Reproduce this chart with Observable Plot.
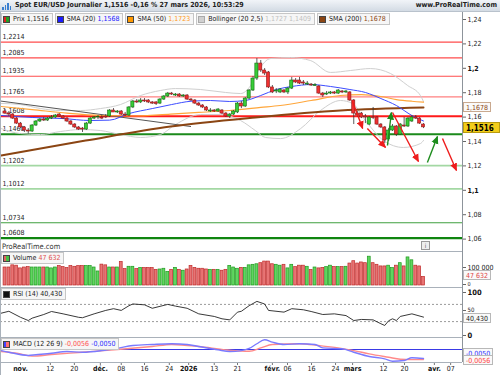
<!DOCTYPE html>
<html><head><meta charset="utf-8">
<script src="https://cdn.jsdelivr.net/npm/d3@7"></script>
<script src="https://cdn.jsdelivr.net/npm/@observablehq/plot@0.6"></script>
<style>
html,body{margin:0;padding:0;background:#fff;}
#root{position:relative;width:500px;height:375px;overflow:hidden;font-family:"DejaVu Sans Condensed","DejaVu Sans",sans-serif;color:#222;}
#title{position:absolute;left:0;top:0;width:500px;height:12px;background:linear-gradient(#f1f4f8,#d3dbe4);border-bottom:1px solid #b9c2cc;box-sizing:border-box;font-weight:bold;font-size:7px;line-height:11px;}
#title .ttl{position:absolute;left:15px;top:0;}
#title .site{position:absolute;right:3px;top:0;}
#title .ico{position:absolute;left:2px;top:2px;width:9px;height:8px;}
#title .ico i{position:absolute;bottom:0;width:1.5px;background:#3a7fd0;}
.lg{position:absolute;left:0;display:flex;gap:2px;font-size:7px;white-space:nowrap;}
.lg .item{display:inline-flex;align-items:center;height:10px;border:1px solid #c6c6c6;background:#f6f6f6;padding:0 3px 0 1px;}
.sw{display:inline-block;width:7px;height:7px;margin-right:3px;box-sizing:border-box;border:1px solid #444;}
.vbox{position:absolute;left:463px;height:10px;line-height:10px;font-size:7px;padding:0 2px;border:1px solid #b8b8b8;background:#fafafa;box-sizing:border-box;white-space:nowrap;}
.hline{position:absolute;left:0;width:462px;height:1px;background:#a9b1ba;}
.vline{position:absolute;left:462px;width:1px;background:#8d949b;}
.wm{position:absolute;left:2px;font-size:7.5px;color:#333;}
.info{position:absolute;width:7px;height:7px;border:1px solid #999;background:#eee;font-size:6px;line-height:7px;text-align:center;color:#555;}
</style></head>
<body><div id="root"></div>
<script>
// ---------------- DATA ----------------
// candles: index 0 = 28 oct. 2025 ... index 108 = 27 mars 2026
const O = [
1.1646,1.1629,1.1621,1.1588,1.1547,1.1515,1.1490,1.1482,1.1531,1.1564,
1.1580,1.1572,1.1588,1.1597,1.1621,1.1605,1.1588,1.1564,1.1539,1.1515,
1.1506,1.1498,1.1547,1.1588,1.1597,1.1597,1.1605,1.1605,1.1654,1.1638,
1.1646,1.1621,1.1613,1.1679,1.1728,1.1720,1.1736,1.1736,1.1720,1.1720,
1.1711,1.1744,1.1769,1.1793,1.1777,1.1785,1.1769,1.1777,1.1744,1.1736,
1.1711,1.1695,1.1679,1.1646,1.1654,1.1646,1.1654,1.1629,1.1605,1.1621,
1.1638,1.1711,1.1687,1.1752,1.1818,1.1916,1.2039,1.1982,1.1966,1.1843,
1.1810,1.1802,1.1818,1.1802,1.1834,1.1900,1.1900,1.1884,1.1867,1.1867,
1.1855,1.1851,1.1793,1.1785,1.1793,1.1802,1.1793,1.1810,1.1802,1.1802,
1.1736,1.1629,1.1629,1.1605,1.1539,1.1597,1.1597,1.1539,1.1515,1.1416,
1.1490,1.1523,1.1457,1.1531,1.1523,1.1564,1.1597,1.1588,1.1539];
const H = [
1.1662,1.1646,1.1629,1.1597,1.1556,1.1523,1.1506,1.1539,1.1572,1.1588,
1.1597,1.1597,1.1613,1.1621,1.1629,1.1613,1.1597,1.1572,1.1547,1.1523,
1.1515,1.1556,1.1597,1.1605,1.1613,1.1613,1.1621,1.1662,1.1670,1.1654,
1.1654,1.1638,1.1687,1.1736,1.1744,1.1752,1.1752,1.1744,1.1728,1.1728,
1.1752,1.1777,1.1802,1.1802,1.1793,1.1793,1.1785,1.1785,1.1752,1.1744,
1.1720,1.1703,1.1687,1.1670,1.1662,1.1670,1.1662,1.1638,1.1629,1.1654,
1.1720,1.1728,1.1761,1.1826,1.1933,1.2080,1.2064,1.1998,1.1974,1.1859,
1.1834,1.1834,1.1826,1.1843,1.1925,1.1916,1.1925,1.1900,1.1892,1.1875,
1.1875,1.1859,1.1802,1.1810,1.1810,1.1810,1.1826,1.1818,1.1818,1.1810,
1.1744,1.1646,1.1638,1.1621,1.1605,1.1679,1.1605,1.1547,1.1523,1.1506,
1.1539,1.1531,1.1547,1.1597,1.1597,1.1613,1.1613,1.1597,1.1547];
const L = [
1.1621,1.1605,1.1580,1.1539,1.1506,1.1474,1.1461,1.1474,1.1523,1.1556,
1.1564,1.1564,1.1580,1.1588,1.1597,1.1580,1.1556,1.1531,1.1506,1.1490,
1.1474,1.1490,1.1539,1.1580,1.1580,1.1580,1.1588,1.1597,1.1646,1.1629,
1.1613,1.1605,1.1605,1.1670,1.1711,1.1711,1.1720,1.1711,1.1703,1.1695,
1.1703,1.1736,1.1761,1.1777,1.1769,1.1761,1.1761,1.1736,1.1728,1.1703,
1.1687,1.1670,1.1646,1.1638,1.1638,1.1638,1.1621,1.1597,1.1588,1.1613,
1.1629,1.1670,1.1679,1.1744,1.1810,1.1900,1.1966,1.1941,1.1834,1.1793,
1.1793,1.1793,1.1793,1.1785,1.1826,1.1875,1.1867,1.1859,1.1859,1.1851,
1.1851,1.1785,1.1761,1.1777,1.1785,1.1785,1.1785,1.1793,1.1793,1.1728,
1.1539,1.1597,1.1588,1.1547,1.1531,1.1580,1.1531,1.1506,1.1383,1.1400,
1.1482,1.1441,1.1449,1.1515,1.1515,1.1556,1.1580,1.1539,1.1506];
const C = [
1.1629,1.1621,1.1588,1.1547,1.1515,1.1490,1.1482,1.1531,1.1564,1.1580,
1.1572,1.1588,1.1597,1.1613,1.1605,1.1588,1.1564,1.1539,1.1515,1.1498,
1.1498,1.1547,1.1588,1.1597,1.1600,1.1588,1.1597,1.1654,1.1638,1.1646,
1.1621,1.1613,1.1679,1.1728,1.1720,1.1736,1.1728,1.1720,1.1711,1.1707,
1.1744,1.1769,1.1793,1.1785,1.1785,1.1769,1.1777,1.1744,1.1736,1.1711,
1.1695,1.1679,1.1654,1.1654,1.1646,1.1662,1.1629,1.1605,1.1621,1.1646,
1.1711,1.1687,1.1752,1.1818,1.1916,1.2039,1.1982,1.1957,1.1843,1.1802,
1.1818,1.1826,1.1802,1.1834,1.1900,1.1884,1.1875,1.1875,1.1875,1.1859,
1.1863,1.1793,1.1777,1.1793,1.1802,1.1793,1.1818,1.1802,1.1810,1.1736,
1.1629,1.1613,1.1597,1.1597,1.1597,1.1593,1.1539,1.1515,1.1408,1.1490,
1.1523,1.1457,1.1539,1.1523,1.1588,1.1597,1.1588,1.1547,1.1516];
// volume (thousands)
const VOL = [
100,100,112,110,95,100,102,100,100,100, 100,100,95,100,108,102,97,108,104,108,
108,108,108,100,78,116,112,100,100,100, 131,91,104,104,91,97,97,97,97,87,
89,93,76,87,98,87,82,89,109,98, 93,93,89,87,87,87,82,87,109,100,
93,98,98,112,115,118,124,133,133,118, 115,110,115,95,115,102,110,110,104,86,
100,95,98,102,110,102,102,102,104,122, 135,122,128,124,160,124,115,106,106,110,
97,110,124,106,156,140,110,106,47.632];
// moving averages (sampled points: candle index, value)
const sma20Idx = [-1,7,15,22,27,32,38,43,48,53,58,62,66,70,74,79,84,89,93,97,101,105,108];
const sma20Val = [1.1613,1.1597,1.1588,1.1572,1.1575,1.1629,1.1670,1.1703,1.1730,1.1736,1.1728,1.1736,1.1777,1.1826,1.1851,1.1867,1.1851,1.1826,1.1802,1.1752,1.1695,1.1613,1.1568];
const sma50Idx = [-1,7,16,24.6,33,42.7,50,58,66,71,79,86.5,92,97,101,105,108];
const sma50Val = [1.1687,1.1662,1.1632,1.1613,1.1609,1.1625,1.1638,1.1654,1.1679,1.1695,1.1736,1.1777,1.1785,1.1769,1.1744,1.1730,1.1723];
const sma200Idx = [-1,20.8,42.7,64.6,86.6,108];
const sma200Val = [1.1285,1.1408,1.1523,1.1597,1.1654,1.1678];
const bbIdx = [-1,4,9.2,14.3,19.5,24.6,29.8,35,40.1,44,50.5,56.9,60.8,63.4,65.4,68.5,73.7,78.8,84,89.2,94.3,99.5,103.9,107.2,108];
const bbUp  = [1.1712,1.1703,1.1670,1.1654,1.1654,1.1670,1.1703,1.1777,1.1818,1.1834,1.1826,1.1802,1.1793,1.1859,1.1982,1.2080,1.2088,1.2064,1.1966,1.1982,1.1998,1.1957,1.1859,1.1777,1.1727];
const bbLoIdx = [-1,4,9.2,14.3,19.5,24.6,29.8,35,40.1,44,50.5,55.6,60.8,64.6,67.2,71.1,76.3,81.4,86.6,89.7,93,97.7,102.8,107.2,108];
const bbLo  = [1.1506,1.1465,1.1457,1.1482,1.1498,1.1490,1.1457,1.1433,1.1457,1.1539,1.1621,1.1621,1.1572,1.1490,1.1433,1.1424,1.1506,1.1654,1.1736,1.1711,1.1572,1.1408,1.1351,1.1383,1.1409];
// drawn trend line
const trendIdx = [-1, 47.9];
const trendVal = [1.1731, 1.1523];
// horizontal support / resistance levels
const levels = [1.2214,1.2085,1.1935,1.1765,1.1608,1.1460,1.1202,1.1012,1.0734,1.0608];
// drawn arrows
const arrFromIdx = [89.6,93.5,98.7,100,109,112.9];
const arrFromVal = [1.1736,1.1507,1.1367,1.1638,1.1228,1.1425];
const arrToIdx   = [92.3,98.2,99.7,106.7,111.6,116.5];
const arrToVal   = [1.1507,1.1351,1.1638,1.1236,1.1441,1.1162];
const arrUp      = [false,false,true,false,true,false];
// RSI (14)
const rsiIdx = [-1,1,4,6,7,10,12,15,19,20,23,26,28,30,32,33,36,38,42,44,47,50,54,56,58,60,61,63,65,67,68,72,74,77,79,82,85,88,90,92,95,97,98,99,100,101,102,105,108];
const rsiVal = [49.5,54,40,32.5,38,46.5,53.5,48,40,39,48,56,60,56,67,71,69,61,70,66,61,48,42,36.5,34,52,54,67,77,71,56,52,60,57.5,53.5,46.5,48,44,32.5,35,34,25,21,32,36.5,32.5,42,48,40.43];
// MACD (12 26 9)
const macdIdx = [-1,1,6,8,12,16,20,25,29,33,38,43,47,50,55,58,61,63,65,67,69,72,76,80,82,87,90,94,98,100,103,105,108];
const macdVal = [-0.0006,-0.0015,-0.0033,-0.0029,-0.0021,-0.0011,-0.0015,-0.0006,0.0007,0.0022,0.0028,0.0032,0.0028,0.0017,-0.0002,-0.0011,-0.0006,0.0006,0.0032,0.0054,0.0041,0.0028,0.0032,0.0028,0.0009,0.0004,-0.0015,-0.0039,-0.0052,-0.0065,-0.0061,-0.0046,-0.0050];
const sigIdx = [-1,4,7,12,20,29,38,43,50,57,61,63,66,69,76,81,86,90,94,99,102,105,108];
const sigVal = [-0.0011,-0.0024,-0.0037,-0.0028,-0.0015,0.0000,0.0017,0.0028,0.0017,-0.0002,-0.0009,-0.0010,0.0009,0.0028,0.0032,0.0022,0.0009,-0.0006,-0.0024,-0.0043,-0.0054,-0.0056,-0.0056];
// x-axis tick labels
const xTickIdx = [4,11.7,17.9,24.6,30,36,42.4,47.4,54,60,69,72.9,79.1,85.3,89.7,97.7,103.1,110.8,115];
const xTickLabels = ["nov.","12","20","déc.","08","16","24","2026","13","21","févr.","06","16","24","mars","12","20","avr.","07"];
const priceTicks = [1.06,1.08,1.1,1.12,1.14,1.16,1.18,1.2,1.22,1.24];
const volTicks = [0,100000];
const rsiTicks = [0,50,100];
// texts
const titleText = "Spot EUR/USD Journalier 1,1516 -0,16 % 27 mars 2026, 10:53:29";
const siteText = "www.ProRealTime.com";
const bbParams = "Bollinger (20 2,5)";

// ---------------- STYLE ----------------
const FONT = '"DejaVu Sans Condensed","DejaVu Sans",sans-serif';
const levelStroke = ["#ff4d4d","#ff4d4d","#ff4d4d","#ff8080","#ff1a1a","#1b8a1b","#a3d8a3","#a3d8a3","#3f9f3f","#0f850f"];
const levelWidth = [1.2,1.2,1.2,1.2,2,2,1.6,1.6,1.2,2.4];
const W = 500, MR = 38;
const xDom = [-1.1613, 118.06];
const PT = 12, PH = 239, VT = 251, VH = 36, RT = 287, RH = 50, MT = 337, MH = 38;
const plotStyle = {fontFamily: FONT, fontSize: "7px", background: "none", overflow: "visible", color: "#222"};

const comma = (v, d) => v.toFixed(d).replace(".", ",");
const trimC = v => String(+v.toFixed(4)).replace(".", ",");
const spaceK = v => d3.format(",")(Math.round(v)).replace(/,/g, " ");

const root = document.getElementById("root");
function add(el, top, left) { el.style.position = "absolute"; el.style.top = top + "px"; el.style.left = (left || 0) + "px"; root.appendChild(el); return el; }
function div(cls, html) { const d = document.createElement("div"); if (cls) d.className = cls; if (html != null) d.innerHTML = html; return d; }

const candles = C.map((c, i) => ({i, o: O[i], h: H[i], l: L[i], c, v: VOL[i] * 1000}));
const isUp = d => d.c >= d.o;
const pts = (I, V) => I.map((i, k) => ({i, v: V[k]}));

// arrow marker
const svgns = "http://www.w3.org/2000/svg";
function triHead(color, context) {
  const doc = (context && context.document) || document;
  const m = doc.createElementNS(svgns, "marker");
  m.setAttribute("viewBox", "-5 -5 10 10");
  m.setAttribute("markerUnits", "userSpaceOnUse");
  m.setAttribute("markerWidth", "8");
  m.setAttribute("markerHeight", "8");
  m.setAttribute("orient", "auto");
  m.setAttribute("refX", "4");
  m.setAttribute("refY", "0");
  const p = doc.createElementNS(svgns, "path");
  p.setAttribute("d", "M-5,-4.5L5,0L-5,4.5Z");
  p.setAttribute("fill", color);
  p.setAttribute("stroke", "none");
  m.appendChild(p);
  return m;
}
const arrows = arrFromIdx.map((x1, k) => ({x1, y1: arrFromVal[k], x2: arrToIdx[k], y2: arrToVal[k], col: arrUp[k] ? "#1c8c1c" : "#ee1c1c"}));
const levelData = levels.map((v, k) => ({v, stroke: levelStroke[k], w: levelWidth[k]}));

// ---------------- TITLE ----------------
const title = div(null); title.id = "title";
title.innerHTML = `<span class="ico"><i style="left:0;height:3px"></i><i style="left:2.5px;height:5px"></i><i style="left:5px;height:7px"></i><i style="left:7.5px;height:4px"></i></span><span class="ttl">${titleText}</span><span class="site">${siteText}</span>`;
add(title, 0);

// ---------------- PRICE PANEL ----------------
function priceMarks(useMarker) {
  return [
    Plot.ruleY(levelData, {y: "v", stroke: "stroke", strokeWidth: "w"}),
    Plot.text(levelData, {y: "v", frameAnchor: "left", text: d => comma(d.v, 4), dx: 2, dy: -5, textAnchor: "start", fill: "#222", fontSize: 7}),
    Plot.line(pts(bbIdx, bbUp), {x: "i", y: "v", stroke: "#cfcfcf", strokeWidth: 1, curve: "monotone-x"}),
    Plot.line(pts(bbLoIdx, bbLo), {x: "i", y: "v", stroke: "#cfcfcf", strokeWidth: 1, curve: "monotone-x"}),
    Plot.line(pts(trendIdx, trendVal), {x: "i", y: "v", stroke: "#555", strokeWidth: 1}),
    Plot.line(pts(sma50Idx, sma50Val), {x: "i", y: "v", stroke: "#ffa63a", strokeWidth: 1.2, curve: "monotone-x"}),
    Plot.line(pts(sma200Idx, sma200Val), {x: "i", y: "v", stroke: "#8b4513", strokeWidth: 2, curve: "monotone-x"}),
    Plot.line(pts(sma20Idx, sma20Val), {x: "i", y: "v", stroke: "#3d4cff", strokeWidth: 1, curve: "monotone-x"}),
    Plot.ruleX(candles, {x: "i", y1: "l", y2: "h", stroke: "#333", strokeWidth: 0.8}),
    Plot.rect(candles, {x1: d => d.i - 0.4, x2: d => d.i + 0.4, y1: "o", y2: "c", fill: d => isUp(d) ? "#38cc38" : "#ee3030", stroke: d => isUp(d) ? "#106e10" : "#8e1a1a", strokeWidth: 0.6}),
    useMarker
      ? Plot.link(arrows, {x1: "x1", y1: "y1", x2: "x2", y2: "y2", stroke: "col", strokeWidth: 1.4, markerEnd: triHead})
      : Plot.arrow(arrows, {x1: "x1", y1: "y1", x2: "x2", y2: "y2", stroke: "col", strokeWidth: 1.4, headLength: 7, headAngle: 50}),
    Plot.axisY(priceTicks.filter(t => t !== 1.1 && t !== 1.2), {anchor: "right", tickSize: 3, tickPadding: 2, tickFormat: trimC, label: null, fontSize: 7, stroke: "#666", fill: "#222"}),
    Plot.axisY([1.1, 1.2], {anchor: "right", tickSize: 3, tickPadding: 2, tickFormat: trimC, label: null, fontSize: 7, fontWeight: "bold", stroke: "#666", fill: "#111"})
  ];
}
function pricePlot(useMarker) {
  return Plot.plot({
    width: W, height: PH, marginLeft: 0, marginRight: MR, marginTop: 0, marginBottom: 0,
    x: {domain: xDom, axis: null},
    y: {domain: [1.04984, 1.24574], axis: null},
    color: {type: "identity"},
    style: plotStyle,
    marks: priceMarks(useMarker)
  });
}
let pp;
try { pp = pricePlot(true); } catch (e) { pp = pricePlot(false); }
add(pp, PT);
const py = v => PT + pp.scale("y").apply(v);

// ---------------- VOLUME ----------------
const vp = Plot.plot({
  width: W, height: VH, marginLeft: 0, marginRight: MR, marginTop: 0, marginBottom: 0,
  x: {domain: xDom, axis: null},
  y: {domain: [-11111, 188889], axis: null},
  color: {type: "identity"},
  style: plotStyle,
  marks: [
    Plot.rect(candles, {x1: d => d.i - 0.37, x2: d => d.i + 0.37, y1: d => 0, y2: "v", fill: d => isUp(d) ? "#5fd65f" : "#e87474", stroke: d => isUp(d) ? "#1f9a1f" : "#bf2a2a", strokeWidth: 0.7}),
    Plot.axisY([volTicks[1]], {anchor: "right", tickSize: 3, tickPadding: 2, tickFormat: spaceK, label: null, fontSize: 7, stroke: "#666", fill: "#222"}),
    Plot.axisY([volTicks[0]], {anchor: "right", tickSize: 3, tickPadding: 2, tickFormat: spaceK, label: null, fontSize: 5.5, dy: -1, stroke: "#666", fill: "#222"})
  ]
});
add(vp, VT);
const vy = v => VT + vp.scale("y").apply(v);

// ---------------- RSI ----------------
const rp = Plot.plot({
  width: W, height: RH, marginLeft: 0, marginRight: MR, marginTop: 0, marginBottom: 0,
  x: {domain: xDom, axis: null},
  y: {domain: [-6.98, 109.3], axis: null},
  style: plotStyle,
  marks: [
    Plot.ruleY([30, 70], {stroke: "#9a9a9a", strokeDasharray: "2,2", strokeWidth: 1}),
    Plot.line(pts(rsiIdx, rsiVal), {x: "i", y: "v", stroke: "#222", strokeWidth: 0.9}),
    Plot.axisY([rsiTicks[1]], {anchor: "right", tickSize: 3, tickPadding: 2, label: null, fontSize: 6, dy: -2.5, stroke: "#666", fill: "#222"}),
    Plot.axisY([rsiTicks[0], rsiTicks[2]], {anchor: "right", tickSize: 3, tickPadding: 2, label: null, fontSize: 7.5, dy: 1, fontWeight: "bold", stroke: "#666", fill: "#111"})
  ]
});
add(rp, RT);
const ry = v => RT + rp.scale("y").apply(v);

// ---------------- MACD + X AXIS ----------------
const boldTick = new Set(["nov.","déc.","2026","févr.","mars","avr."]);
const tickLab = new Map(xTickIdx.map((t, k) => [t, xTickLabels[k]]));
const mp = Plot.plot({
  width: W, height: MH, marginLeft: 0, marginRight: MR, marginTop: 0, marginBottom: 13,
  x: {domain: xDom},
  y: {domain: [-0.00722, 0.00667], axis: null},
  style: plotStyle,
  marks: [
    Plot.ruleY([0], {stroke: "#3a3ae6", strokeWidth: 1}),
    Plot.line(pts(sigIdx, sigVal), {x: "i", y: "v", stroke: "#ff8a8a", strokeWidth: 1.4, curve: "monotone-x"}),
    Plot.line(pts(macdIdx, macdVal), {x: "i", y: "v", stroke: "#7a7aff", strokeWidth: 1.4, curve: "monotone-x"}),
    Plot.axisX(xTickIdx.filter(t => !boldTick.has(tickLab.get(t))), {anchor: "bottom", tickSize: 3, tickPadding: 1, tickFormat: t => tickLab.get(t), label: null, fontSize: 7, stroke: "#777", fill: "#222"}),
    Plot.axisX(xTickIdx.filter(t => boldTick.has(tickLab.get(t))), {anchor: "bottom", tickSize: 3, tickPadding: 1, tickFormat: t => tickLab.get(t), label: null, fontSize: 7, fontWeight: "bold", stroke: "#777", fill: "#111"})
  ]
});
add(mp, MT);
const my = v => MT + mp.scale("y").apply(v);

// ---------------- FRAMES ----------------
[VT, RT, MT, MT + MH - 13].forEach(t => add(div("hline"), t));
const vl = div("vline"); vl.style.height = (MT + MH - 13 - PT) + "px"; add(vl, PT, 462);
const lb = div(null); lb.style.cssText = "width:1px;height:363px;background:#a9b1ba;"; add(lb, 12, 0);

// ---------------- LEGENDS ----------------
const last = a => a[a.length - 1];
const lg = div("lg");
lg.innerHTML =
  `<span class="item"><span class="sw" style="background:linear-gradient(90deg,#e02020 50%,#22a022 50%)"></span>Prix ${comma(last(C),4)}</span>` +
  `<span class="item"><span class="sw" style="background:#1c1cff"></span>SMA (20)&nbsp;<span style="color:#2020ff">${comma(last(sma20Val),4)}</span></span>` +
  `<span class="item"><span class="sw" style="background:#ff9900"></span>SMA (50)&nbsp;<span style="color:#ff9a1a">${comma(last(sma50Val),4)}</span></span>` +
  `<span class="item"><span class="sw" style="background:#d0d0d0;border-color:#aaa"></span>${bbParams}&nbsp;<span style="color:#c0c0c0">${comma(last(bbUp),4)} ${comma(last(bbLo),4)}</span></span>` +
  `<span class="item"><span class="sw" style="background:#8b4513"></span>SMA (200)&nbsp;<span style="color:#8b4513">${comma(last(sma200Val),4)}</span></span>`;
add(lg, 13, 1);

const lgV = div("lg");
lgV.innerHTML = `<span class="item"><span class="sw" style="background:linear-gradient(90deg,#e06060 50%,#44c044 50%)"></span>Volume&nbsp;<span style="color:#e05050">${spaceK(last(VOL)*1000)}</span></span>`;
add(lgV, VT + 1, 1);
const lgR = div("lg");
lgR.innerHTML = `<span class="item"><span class="sw" style="background:#111"></span>RSI (14) ${comma(last(rsiVal),3)}</span>`;
add(lgR, RT + 1, 1);
const lgM = div("lg");
lgM.innerHTML = `<span class="item"><span class="sw" style="background:linear-gradient(90deg,#4444ff 50%,#ff7070 50%)"></span>MACD (12 26 9)&nbsp;<span style="color:#ff5050">${comma(last(sigVal),4)}</span>&nbsp;<span style="color:#3030ff">${comma(last(macdVal),4)}</span></span>`;
add(lgM, MT + 1, 1);

// watermark + info
const wm = div("wm", "ProRealTime.com"); add(wm, VT - 9, 2);
const inf = div("info", "i"); add(inf, VT - 10, 421);

// ---------------- VALUE BOXES ----------------
function vbox(text, y, css) { const b = div("vbox", text); if (css) b.style.cssText += css; add(b, Math.round(y - 5), 463); return b; }
vbox(comma(last(sma200Val),4), py(last(sma200Val)), "color:#8b4513;border-color:#c9a98f;");
vbox(comma(last(C),4), py(last(C)), "background:#f2cd1a;border-color:#b79a10;font-weight:bold;font-size:8px;color:#000;width:37px;height:11px;line-height:11px;");
vbox(spaceK(last(VOL)*1000), vy(last(VOL)*1000) - 1.5, "color:#e04848;");
vbox(comma(last(rsiVal),3), ry(last(rsiVal)) + 1.5, "color:#222;");
vbox(comma(last(macdVal),4), my(last(macdVal)) - 5, "color:#3030ff;");
vbox(comma(last(sigVal),4), my(last(sigVal)) + 1, "color:#ff4040;");
</script></body></html>
